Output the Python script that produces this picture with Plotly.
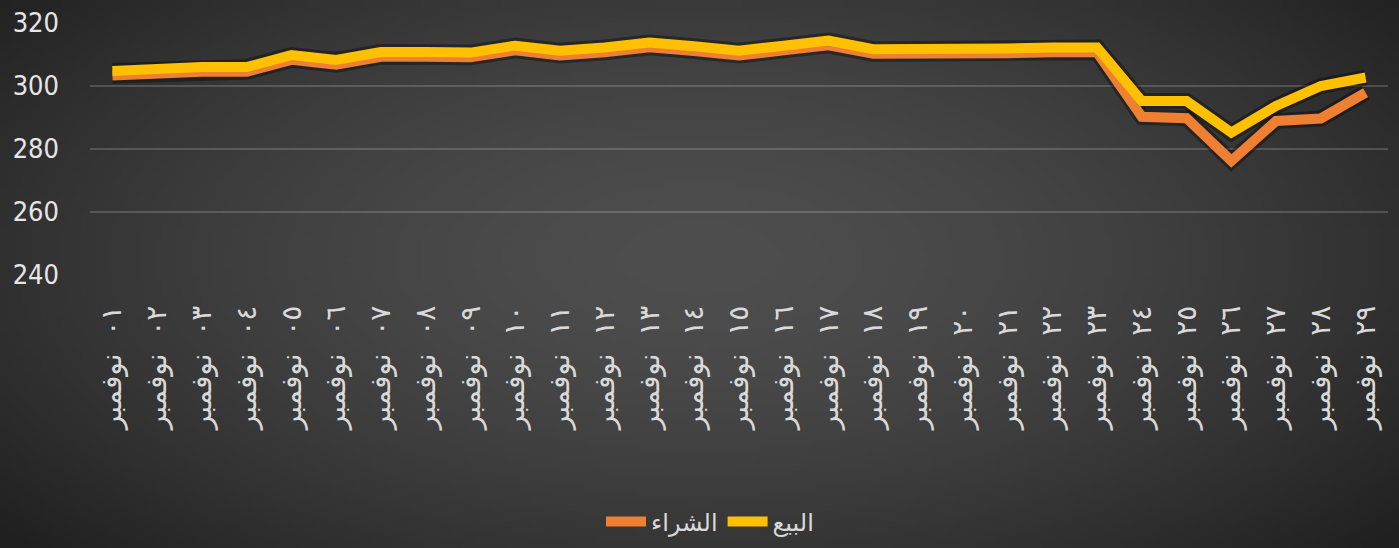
import base64, struct, zlib
import numpy as np
import plotly.graph_objects as go

# ---------------- data ----------------
days = ["٠١", "٠٢", "٠٣", "٠٤", "٠٥", "٠٦", "٠٧", "٠٨", "٠٩", "١٠",
        "١١", "١٢", "١٣", "١٤", "١٥", "١٦", "١٧", "١٨", "١٩", "٢٠",
        "٢١", "٢٢", "٢٣", "٢٤", "٢٥", "٢٦", "٢٧", "٢٨", "٢٩"]
month = "نوفمبر"
categories = [d + "\u00a0 " + month for d in days]

sell_name = "البيع"
buy_name = "الشراء"

sell = [304.8, 305.5, 306.0, 306.0, 309.8, 308.3, 310.8, 310.8, 310.6, 312.8,
        311.2, 312.2, 313.8, 312.6, 311.2, 312.8, 314.4, 311.7, 311.6, 311.6,
        311.9, 312.2, 312.2, 295.2, 295.2, 285.2, 293.7, 300.0, 302.7]
buy = [303.3, 304.0, 304.5, 304.5, 308.3, 306.8, 309.3, 309.3, 309.1, 311.3,
       309.7, 310.7, 312.3, 311.1, 309.7, 311.3, 312.9, 310.2, 310.1, 310.1,
       310.4, 310.7, 310.7, 290.2, 289.8, 276.2, 288.9, 289.7, 297.9]

y_ticks = [240, 260, 280, 300, 320]

# ---------------- background gradient (style only) ----------------
W, H = 280, 110
yy, xx = np.mgrid[0:H, 0:W]
dx = (xx / (W - 1) - 0.5) / 0.62
dy = (yy / (H - 1) - 0.47) / 0.75
r = np.sqrt(dx ** 2 + dy ** 2)
val = 78 - 42 * np.clip(r, 0, 1.2) ** 1.6
val = np.clip(val, 32, 80).astype(np.uint8)
rgb = np.stack([val, val, val], axis=-1)


def to_png(a):
    h, w, _ = a.shape
    raw = b"".join(b"\x00" + a[i].tobytes() for i in range(h))

    def chunk(t, d):
        c = struct.pack(">I", len(d)) + t + d
        return c + struct.pack(">I", zlib.crc32(t + d) & 0xffffffff)

    return (b"\x89PNG\r\n\x1a\n" + chunk(b"IHDR", struct.pack(">IIBBBBB", w, h, 8, 2, 0, 0, 0))
            + chunk(b"IDAT", zlib.compress(raw, 9)) + chunk(b"IEND", b""))


bg_src = "data:image/png;base64," + base64.b64encode(to_png(rgb)).decode()

# ---------------- figure ----------------
FIG_W, FIG_H = 1399, 548
ML, MR, MT, MB = 90, 11, 23, 273
PW, PH = FIG_W - ML - MR, FIG_H - MT - MB

fig = go.Figure()

# soft shadows beneath the lines
for vals in (buy, sell):
    fig.add_trace(go.Scatter(x=categories, y=vals, mode="lines",
                             line=dict(color="rgba(0,0,0,0.35)", width=16),
                             hoverinfo="skip", showlegend=False))

fig.add_trace(go.Scatter(x=categories, y=buy, mode="lines", name=buy_name,
                         line=dict(color="#EF7F32", width=10)))
fig.add_trace(go.Scatter(x=categories, y=sell, mode="lines", name=sell_name,
                         line=dict(color="#FFC000", width=10)))

arabic_font = "DejaVu Sans, Noto Sans, sans-serif"
num_font = "Liberation Sans Narrow, DejaVu Sans Condensed, Liberation Sans, sans-serif"

fig.update_layout(
    width=FIG_W, height=FIG_H,
    margin=dict(l=ML, r=MR, t=MT, b=MB, autoexpand=False),
    paper_bgcolor="#2e2e2e",
    plot_bgcolor="rgba(0,0,0,0)",
    images=[dict(source=bg_src, xref="paper", yref="paper",
                 x=-ML / PW, y=1 + MT / PH, sizex=FIG_W / PW, sizey=FIG_H / PH,
                 xanchor="left", yanchor="top", sizing="stretch", layer="below")],
    showlegend=True,
    legend=dict(orientation="h", x=(710 - ML) / PW, xanchor="center",
                y=-(522 - (MT + PH)) / PH, yanchor="middle",
                font=dict(family=arabic_font, size=24, color="#d9d9d9"),
                bgcolor="rgba(0,0,0,0)", itemwidth=40),
    xaxis=dict(type="category", range=[-0.5, len(categories) - 0.5], automargin=False,
               showgrid=False, zeroline=False, showline=False,
               tickangle=-90, ticklabelstandoff=24,
               tickfont=dict(family=arabic_font, size=28, color="#d9d9d9")),
    yaxis=dict(range=[240, 320], tickvals=y_ticks, ticktext=[str(v) for v in y_ticks],
               automargin=False,
               showgrid=True, gridcolor="rgba(255,255,255,0.17)", gridwidth=2,
               zeroline=False, showline=False, ticklabelstandoff=30,
               tickfont=dict(family=num_font, size=27, color="#e6e6e6")),
)

fig.write_html("out.html",
               config={"displayModeBar": False},
               post_script="document.body.style.margin='0';"
                           "document.body.style.background='#2e2e2e';"
                           "document.body.style.overflow='hidden';")
